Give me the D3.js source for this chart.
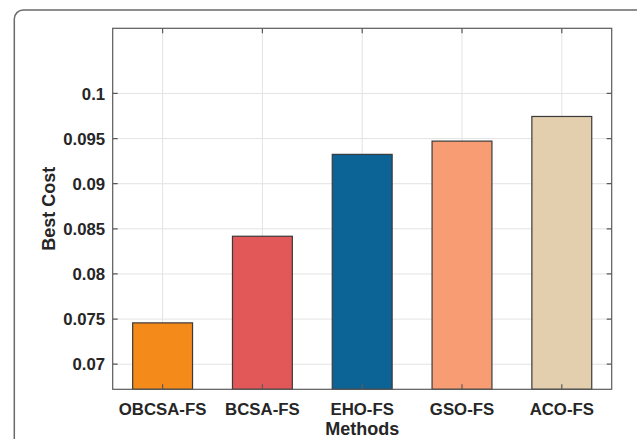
<!DOCTYPE html>
<html><head><meta charset="utf-8">
<script src="https://cdn.jsdelivr.net/npm/d3@7"></script>
<style>body{margin:0;background:#fff}svg{display:block}text{font-family:"Liberation Sans",Arial,sans-serif;font-weight:bold;fill:#262626}</style>
</head><body><svg id="c" width="637" height="439"></svg>
<script>
const categories = ["OBCSA-FS","BCSA-FS","EHO-FS","GSO-FS","ACO-FS"];
const values = [0.07458, 0.08418, 0.09325, 0.09472, 0.09745];
const colors = ["#F38A1A","#E25859","#0B6396","#F89D73","#E3CEAE"];
const yTicks = [0.07,0.075,0.08,0.085,0.09,0.095,0.1];
const yDomain = [0.06722, 0.10722];

const svg = d3.select("#c");
const m = {l:112.7, t:28.3, r:611.7, b:389.3};

// outer frame
svg.append("rect").attr("x",14.3).attr("y",10).attr("width",640).attr("height",460)
  .attr("rx",9).attr("fill","none").attr("stroke","#6a6a6a").attr("stroke-width",1.5);

const x = d3.scaleLinear().domain([0.5,5.5]).range([m.l,m.r]);
const y = d3.scaleLinear().domain(yDomain).range([m.b,m.t]);
const g = svg.append("g");

// grid
g.selectAll(".gy").data(yTicks).join("line")
  .attr("x1",m.l).attr("x2",m.r).attr("y1",d=>y(d)).attr("y2",d=>y(d))
  .attr("stroke","#e3e3e3").attr("stroke-width",1);
g.selectAll(".gx").data(categories).join("line")
  .attr("x1",(d,i)=>x(i+1)).attr("x2",(d,i)=>x(i+1)).attr("y1",m.t).attr("y2",m.b)
  .attr("stroke","#e3e3e3").attr("stroke-width",1);

// bars
g.selectAll(".bar").data(values).join("rect")
  .attr("x",(d,i)=>x(i+1-0.3)).attr("width",x(1.6)-x(1))
  .attr("y",d=>y(d)).attr("height",d=>m.b-y(d))
  .attr("fill",(d,i)=>colors[i]).attr("stroke","#3a3a3a").attr("stroke-width",1.2);

// axes box
g.append("rect").attr("x",m.l).attr("y",m.t).attr("width",m.r-m.l).attr("height",m.b-m.t)
  .attr("fill","none").attr("stroke","#5a5a5a").attr("stroke-width",1.2);

const tl = 5;
g.selectAll(".ty").data(yTicks).join("path")
  .attr("d",d=>`M${m.l},${y(d)}h${tl}M${m.r},${y(d)}h${-tl}`)
  .attr("stroke","#5a5a5a").attr("stroke-width",1.2);
g.selectAll(".tx").data(categories).join("path")
  .attr("d",(d,i)=>`M${x(i+1)},${m.b}v${-tl}M${x(i+1)},${m.t}v${tl}`)
  .attr("stroke","#5a5a5a").attr("stroke-width",1.2);

// tick labels
g.selectAll(".yl").data(yTicks).join("text")
  .attr("x",m.l-7.5).attr("y",d=>y(d)).attr("dy","0.36em")
  .attr("text-anchor","end").attr("font-size","16.8px")
  .text(d=>d3.format("")(+d.toFixed(3)));
g.selectAll(".xl").data(categories).join("text")
  .attr("x",(d,i)=>x(i+1)).attr("y",414.5)
  .attr("text-anchor","middle").attr("font-size","16.8px").text(d=>d);

// axis titles
svg.append("text").attr("x",x(3)).attr("y",434.5).attr("text-anchor","middle")
  .attr("font-size","18px").text("Methods");
svg.append("text").attr("transform",`translate(55,${(m.t+m.b)/2}) rotate(-90)`)
  .attr("text-anchor","middle").attr("font-size","18px").text("Best Cost");
</script></body></html>
